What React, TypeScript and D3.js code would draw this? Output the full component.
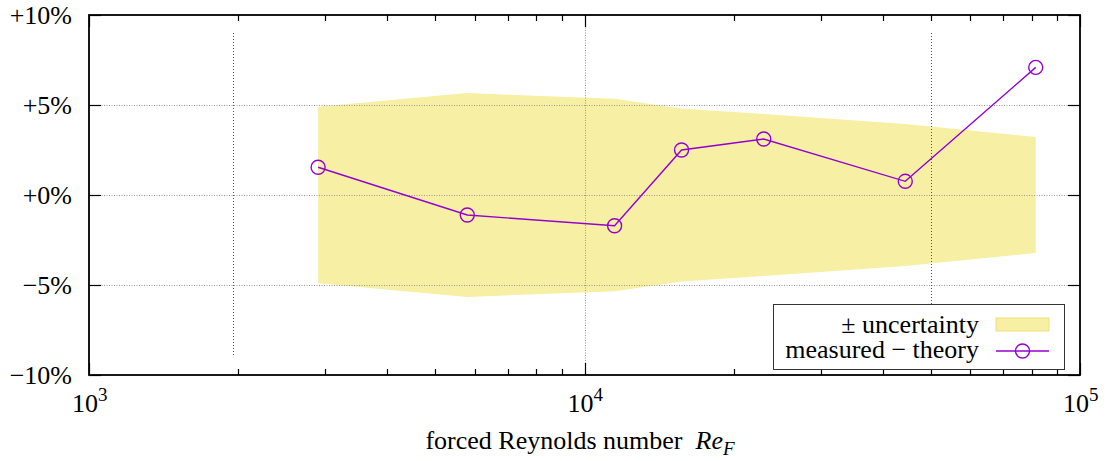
import { useEffect, useRef } from "react";
import * as d3 from "d3";

// forced Reynolds number of each run
const reynolds = [2900, 5800, 11500, 15700, 23000, 44400, 81400];
// measured - theory, in percent
const deviation = [1.54, -1.11, -1.71, 2.5, 3.11, 0.76, 7.09];
// +/- uncertainty band half-width, in percent
const uncertainty = [4.9, 5.66, 5.35, 4.8, 4.5, 3.95, 3.22];
// vertical marker lines (range limits) and their extent
const limitLines = [1950, 50000];
const limitExtent = [-9, 9];
const yTicks = [-10, -5, 0, 5, 10];
const yTickLabels = ["\u221210%", "\u22125%", "+0%", "+5%", "+10%"];
const xMajor = [1e3, 1e4, 1e5];

const W = 1107;
const H = 461;
const FONT = "'Liberation Serif', 'DejaVu Serif', serif";
const FS = 26;
const PURPLE = "#9400d3";
const BAND = "#f7efa3";

export default function App() {
  const svgRef = useRef<SVGSVGElement>(null);

  useEffect(() => {
    if (!svgRef.current) return;
    const root = d3.select(svgRef.current);
    root.selectAll("*").remove();

    const left = 89;
    const right = 1080;
    const top = 15;
    const bottom = 375;

    const x = d3.scaleLog().domain([1e3, 1e5]).range([left, right]);
    const y = d3.scaleLinear().domain([-10, 10]).range([bottom, top]);

    const svg = root.attr("width", W).attr("height", H);

    svg.append("rect").attr("width", W).attr("height", H).attr("fill", "white");

    // uncertainty band around zero
    const rows = reynolds.map((r, i) => ({ r, dev: deviation[i], unc: uncertainty[i] }));
    const band = d3
      .area<(typeof rows)[number]>()
      .x((d) => x(d.r))
      .y0((d) => y(-d.unc))
      .y1((d) => y(d.unc));
    svg.append("path").attr("d", band(rows)).attr("fill", BAND);

    // grid
    const grid = svg
      .append("g")
      .attr("stroke", "#999")
      .attr("stroke-width", 1)
      .attr("stroke-dasharray", "1,1.5");
    grid
      .selectAll("line.h")
      .data(yTicks.filter((t) => t > -10 && t < 10))
      .enter()
      .append("line")
      .attr("x1", left)
      .attr("x2", right)
      .attr("y1", (d) => Math.round(y(d)) + 0.5)
      .attr("y2", (d) => Math.round(y(d)) + 0.5);
    grid
      .selectAll("line.v")
      .data(xMajor.filter((t) => t > 1e3 && t < 1e5))
      .enter()
      .append("line")
      .attr("x1", (d) => Math.round(x(d)) + 0.5)
      .attr("x2", (d) => Math.round(x(d)) + 0.5)
      .attr("y1", top)
      .attr("y2", bottom);

    // range limit lines
    svg
      .selectAll("line.limit")
      .data(limitLines)
      .enter()
      .append("line")
      .attr("x1", (d) => Math.round(x(d)) + 0.5)
      .attr("x2", (d) => Math.round(x(d)) + 0.5)
      .attr("y1", y(limitExtent[1]))
      .attr("y2", y(limitExtent[0]))
      .attr("stroke", "#555")
      .attr("stroke-width", 1)
      .attr("stroke-dasharray", "1,2");

    // ticks
    const ticks = svg.append("g").attr("stroke", "black").attr("stroke-width", 1.2);
    x.ticks().forEach((t) => {
      const major = xMajor.includes(t);
      const len = major ? 12 : 6;
      const px = Math.round(x(t)) + 0.5;
      ticks.append("line").attr("x1", px).attr("x2", px).attr("y1", bottom).attr("y2", bottom - len);
      ticks.append("line").attr("x1", px).attr("x2", px).attr("y1", top).attr("y2", top + len);
    });
    yTicks.forEach((t) => {
      const py = Math.round(y(t)) + 0.5;
      ticks.append("line").attr("x1", left).attr("x2", left + 12).attr("y1", py).attr("y2", py);
      ticks.append("line").attr("x1", right).attr("x2", right - 12).attr("y1", py).attr("y2", py);
    });

    // measured - theory
    const line = d3
      .line<(typeof rows)[number]>()
      .x((d) => x(d.r))
      .y((d) => y(d.dev));
    svg
      .append("path")
      .attr("d", line(rows))
      .attr("fill", "none")
      .attr("stroke", PURPLE)
      .attr("stroke-width", 1.4);
    svg
      .selectAll("circle.pt")
      .data(rows)
      .enter()
      .append("circle")
      .attr("cx", (d) => x(d.r))
      .attr("cy", (d) => y(d.dev))
      .attr("r", 7)
      .attr("fill", "none")
      .attr("stroke", PURPLE)
      .attr("stroke-width", 1.4);

    // border
    svg
      .append("rect")
      .attr("x", left)
      .attr("y", top)
      .attr("width", right - left)
      .attr("height", bottom - top)
      .attr("fill", "none")
      .attr("stroke", "black")
      .attr("stroke-width", 1.8);

    // y tick labels
    svg
      .selectAll("text.yl")
      .data(yTicks)
      .enter()
      .append("text")
      .attr("x", 72)
      .attr("y", (d) => y(d) + 9)
      .attr("text-anchor", "end")
      .attr("font-family", FONT)
      .attr("font-size", FS)
      .text((d, i) => yTickLabels[i]);

    // x tick labels: 10^n
    const xl = svg
      .selectAll("text.xl")
      .data(xMajor)
      .enter()
      .append("text")
      .attr("x", (d) => x(d) - 17)
      .attr("y", 412)
      .attr("font-family", FONT)
      .attr("font-size", FS);
    xl.append("tspan").text("10");
    xl.append("tspan")
      .attr("dy", -11)
      .attr("font-size", 19)
      .text((d) => String(Math.round(Math.log10(d))));

    // x axis label
    const xlab = svg
      .append("text")
      .attr("x", 580)
      .attr("y", 449)
      .attr("text-anchor", "middle")
      .attr("font-family", FONT)
      .attr("font-size", FS);
    xlab.append("tspan").text("forced Reynolds number\u00a0\u00a0");
    xlab.append("tspan").attr("font-style", "italic").text("Re");
    xlab.append("tspan").attr("font-style", "italic").attr("font-size", 19).attr("dy", 6).text("F");

    // legend
    const lg = svg.append("g").attr("font-family", FONT).attr("font-size", FS);
    lg.append("rect")
      .attr("x", 773.5)
      .attr("y", 304.5)
      .attr("width", 291)
      .attr("height", 65)
      .attr("fill", "white")
      .attr("stroke", "#333")
      .attr("stroke-width", 1);
    lg.append("text")
      .attr("x", 979)
      .attr("y", 333)
      .attr("text-anchor", "end")
      .text("\u00b1 uncertainty");
    lg.append("text")
      .attr("x", 979)
      .attr("y", 358)
      .attr("text-anchor", "end")
      .text("measured \u2212 theory");
    lg.append("rect")
      .attr("x", 996)
      .attr("y", 318)
      .attr("width", 53)
      .attr("height", 13)
      .attr("fill", BAND)
      .attr("stroke", "#efe07a");
    lg.append("line")
      .attr("x1", 996)
      .attr("x2", 1049)
      .attr("y1", 351)
      .attr("y2", 351)
      .attr("stroke", PURPLE)
      .attr("stroke-width", 1.4);
    lg.append("circle")
      .attr("cx", 1022.5)
      .attr("cy", 351)
      .attr("r", 7)
      .attr("fill", "none")
      .attr("stroke", PURPLE)
      .attr("stroke-width", 1.4);
  }, []);

  return (
    <div style={{ position: "absolute", left: 0, top: 0 }}>
      <svg ref={svgRef}></svg>
    </div>
  );
}
